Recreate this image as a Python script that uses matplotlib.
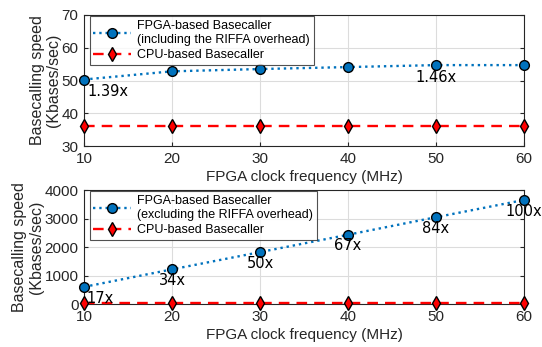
import matplotlib
matplotlib.use("Agg")
import matplotlib.pyplot as plt

plt.rcParams['font.family'] = ['Liberation Sans', 'DejaVu Sans']

clock_mhz = [10, 20, 30, 40, 50, 60]

# top panel: including RIFFA overhead
fpga_with_riffa = [50.3, 52.8, 53.5, 54.1, 54.7, 54.7]
cpu_speed_top = [36, 36, 36, 36, 36, 36]
top_labels = {0: "1.39x", 4: "1.46x"}

# bottom panel: excluding RIFFA overhead
fpga_no_riffa = [600, 1215, 1820, 2430, 3045, 3650]
cpu_speed_bottom = [36, 36, 36, 36, 36, 36]
bottom_labels = ["17x", "34x", "50x", "67x", "84x", "100x"]

blue = '#0072BD'
grey = '#262626'

fig = plt.figure(figsize=(5.42, 3.47), dpi=100)
ax1 = fig.add_axes([84 / 542, 1 - 146 / 347, 440 / 542, 131 / 347])
ax2 = fig.add_axes([84 / 542, 1 - 304 / 347, 440 / 542, 114 / 347])


def style(ax, label_x):
    ax.grid(True, color='#dcdcdc', linewidth=0.8)
    ax.set_axisbelow(True)
    for s in ax.spines.values():
        s.set_color(grey)
        s.set_linewidth(0.8)
    ax.tick_params(direction='in', length=3, colors=grey, labelsize=11,
                   top=False, right=True, labelcolor=grey, pad=4)
    ax.set_xlim(10, 60)
    ax.set_xticks(clock_mhz)
    ax.set_xlabel('FPGA clock frequency (MHz)', fontsize=11, color=grey, labelpad=3)
    ax.set_ylabel('Basecalling speed\n(Kbases/sec)', fontsize=11.5, color=grey,
                  linespacing=1.1)
    ax.yaxis.set_label_coords(label_x, 0.5)


def plot_pair(ax, fpga, cpu, fpga_label):
    ax.plot(clock_mhz, fpga, ':', color=blue, linewidth=1.7, marker='o',
            markersize=7, markerfacecolor=blue, markeredgecolor='black',
            markeredgewidth=1.0, clip_on=False, zorder=3, label=fpga_label)
    ax.plot(clock_mhz, cpu, '--', color='red', linewidth=1.7, dashes=(4.5, 3),
            marker='d', markersize=7.5, markerfacecolor='red', markeredgecolor='black',
            markeredgewidth=1.0, clip_on=False, zorder=3, label='CPU-based Basecaller')
    leg = ax.legend(loc='upper left', fontsize=9.0, frameon=True, fancybox=False,
                    edgecolor=grey, handlelength=3.0, borderpad=0.3, labelspacing=0.25,
                    borderaxespad=0.1, handletextpad=0.5, bbox_to_anchor=(0.01, 1.0))
    leg.get_frame().set_linewidth(0.8)


# top
plot_pair(ax1, fpga_with_riffa, cpu_speed_top,
          'FPGA-based Basecaller\n(including the RIFFA overhead)')
ax1.set_ylim(30, 70)
ax1.set_yticks([30, 40, 50, 60, 70])
style(ax1, -0.052)
ax1.text(clock_mhz[0] + 0.4, fpga_with_riffa[0] - 1.5, top_labels[0], fontsize=10.5,
         family='DejaVu Sans', va='top', ha='left')
ax1.text(clock_mhz[4], fpga_with_riffa[4] - 1.5, top_labels[4], fontsize=10.5,
         family='DejaVu Sans', va='top', ha='center')

# bottom
plot_pair(ax2, fpga_no_riffa, cpu_speed_bottom,
          'FPGA-based Basecaller\n(excluding the RIFFA overhead)')
ax2.set_ylim(0, 4000)
ax2.set_yticks([0, 1000, 2000, 3000, 4000])
style(ax2, -0.092)
for i, lab in enumerate(bottom_labels):
    dx = 0.3 if i == 0 else 0
    ha = 'left' if i == 0 else 'center'
    ax2.text(clock_mhz[i] + dx, fpga_no_riffa[i] - 130, lab, fontsize=10.5,
             family='DejaVu Sans', va='top', ha=ha)

fig.savefig('out.png', dpi=100)
